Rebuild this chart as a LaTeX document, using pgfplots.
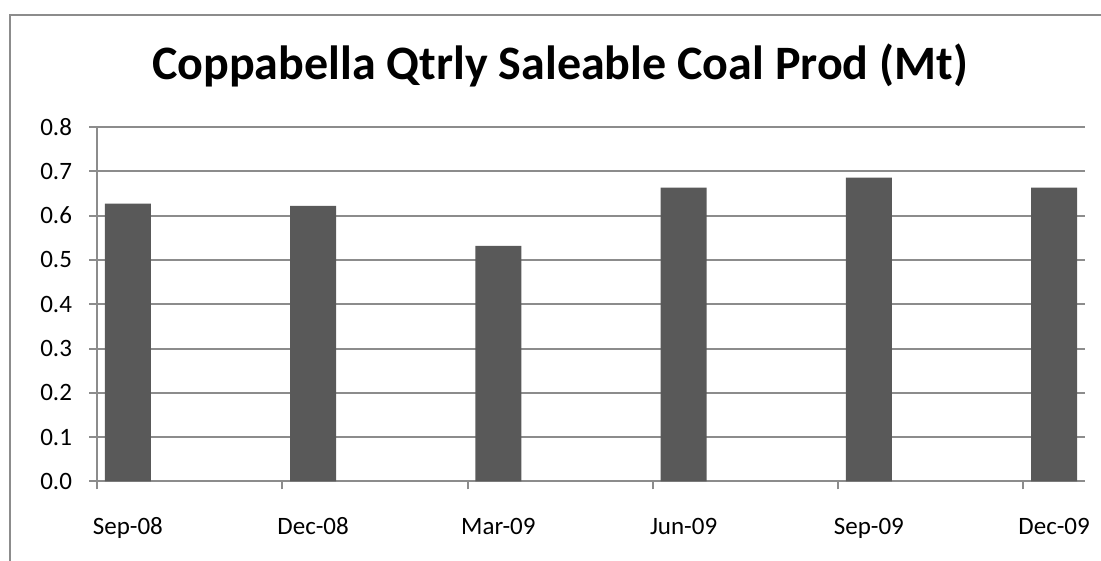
\documentclass[border=0pt]{standalone}
\usepackage{fontspec}
\setmainfont{Carlito}
\usepackage{pgfplots}
\pgfplotsset{compat=1.18}

\definecolor{barfill}{HTML}{595959}
\definecolor{linegray}{HTML}{8C8C8C}

\begin{document}
\begin{tikzpicture}
% page: 1101 x 561 px, 1 px = 0.5pt
\path[use as bounding box] (0,0) rectangle (550.5pt,280.5pt);
\draw[linegray, line width=1pt] (5pt,0) -- (5pt,273pt) -- (550.5pt,273pt);

\node[anchor=base, font=\fontsize{24}{28}\selectfont\bfseries] at (280pt,240.5pt)
  {Coppabella Qtrly Saleable Coal Prod (Mt)};

\begin{axis}[
    at={(48.5pt,39.75pt)}, anchor=south west,
    scale only axis,
    width=494pt, height=177.25pt,
    xmin=0, xmax=16,
    ymin=0, ymax=0.8,
    ytick={0,0.1,0.2,0.3,0.4,0.5,0.6,0.7,0.8},
    yticklabel style={/pgf/number format/fixed, /pgf/number format/precision=1,
                      /pgf/number format/fixed zerofill, xshift=-5pt},
    /pgf/number format/assume math mode=true,
    xtick={0,3,6,9,12,15},
    xticklabels={},
    extra x ticks={0.5,3.5,6.5,9.5,12.5,15.5},
    extra x tick labels={Sep-08,Dec-08,Mar-09,Jun-09,Sep-09,Dec-09},
    extra x tick style={major tick length=0pt, grid=none},
    xticklabel style={anchor=north, yshift=-14pt, text height=9pt, text depth=2.5pt},
    axis x line*=bottom,
    axis y line*=left,
    axis line style={linegray, line width=1pt, -},
    tick align=outside,
    major tick length=4pt,
    tick style={linegray, line width=1pt},
    ymajorgrids,
    major grid style={linegray, line width=1pt},
    ticklabel style={font=\fontsize{12.5}{15}\selectfont},
    ybar,
    bar width=0.745,
]
% quarterly saleable coal production, Mt (x = month index from Sep-08)
\addplot[fill=barfill, draw=none] coordinates {
    (0.5, 0.627)
    (3.5, 0.622)
    (6.5, 0.532)
    (9.5, 0.663)
    (12.5, 0.686)
    (15.5, 0.663)
};
\end{axis}
\end{tikzpicture}
\end{document}
